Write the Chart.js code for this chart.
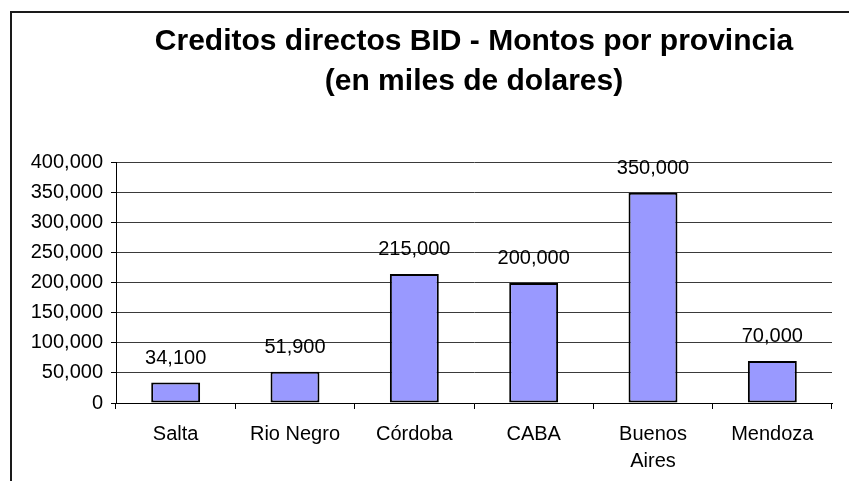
<!DOCTYPE html>
<html>
<head>
<meta charset="utf-8">
<script src="https://cdn.jsdelivr.net/npm/chart.js@4.4.0/dist/chart.umd.min.js"></script>
<style>
    html, body { margin: 0; padding: 0; background: #fff; }
    #wrap { width: 849px; height: 481px; position: relative; }
</style>
</head>
<body>
<div id="wrap"><canvas id="chart" width="849" height="481"></canvas></div>
<script>
const provincias = ['Salta', 'Rio Negro', 'Córdoba', 'CABA', ['Buenos', 'Aires'], 'Mendoza'];
const montos = [34100, 51900, 215000, 200000, 350000, 70000];
const tituloLineas = ['Creditos directos BID - Montos por provincia', '(en miles de dolares)'];
const yMax = 400000;
const yPaso = 50000;

const FONT = "'Liberation Sans', Arial, sans-serif";

// marco del grafico (solo se ven los bordes izquierdo y superior)
const marco = {
    id: 'marco',
    beforeDraw(chart) {
        const ctx = chart.ctx;
        ctx.save();
        ctx.fillStyle = '#fff';
        ctx.fillRect(0, 0, chart.width, chart.height);
        ctx.strokeStyle = '#1a1a1a';
        ctx.lineWidth = 2;
        ctx.beginPath();
        ctx.moveTo(11, chart.height + 5);
        ctx.lineTo(11, 12);
        ctx.lineTo(chart.width + 5, 12);
        ctx.stroke();
        ctx.restore();
    }
};

// etiquetas de valor sobre cada barra
const etiquetas = {
    id: 'etiquetas',
    afterDatasetsDraw(chart) {
        const ctx = chart.ctx;
        const meta = chart.getDatasetMeta(0);
        ctx.save();
        ctx.font = '20px ' + FONT;
        ctx.fillStyle = '#000';
        ctx.textAlign = 'center';
        ctx.textBaseline = 'middle';
        meta.data.forEach((bar, i) => {
            ctx.fillText(montos[i].toLocaleString('en-US'), bar.x, bar.y - 24);
        });
        ctx.restore();
    }
};

new Chart(document.getElementById('chart'), {
    type: 'bar',
    data: {
        labels: provincias,
        datasets: [{
            data: montos,
            backgroundColor: '#9999ff',
            borderColor: '#000',
            borderWidth: 2,
            borderSkipped: false,
            barPercentage: 0.41,
            categoryPercentage: 1
        }]
    },
    options: {
        responsive: false,
        animation: false,
        layout: { padding: { left: 0, right: 17, top: 0, bottom: 0 } },
        plugins: {
            legend: { display: false },
            tooltip: { enabled: false },
            title: {
                display: true,
                text: tituloLineas,
                fullSize: false,
                color: '#000',
                font: { family: FONT, size: 30, weight: 'bold', lineHeight: 1.33 },
                padding: { top: 22, bottom: 61 }
            }
        },
        scales: {
            x: {
                offset: true,
                grid: { offset: true, drawOnChartArea: false, drawTicks: true, tickLength: 6, color: '#000' },
                border: { color: '#000', width: 1 },
                ticks: { color: '#000', padding: 12, maxRotation: 0, font: { family: FONT, size: 20, lineHeight: 1.35 } },
                afterFit(scale) { scale.height = 78; }
            },
            y: {
                min: 0,
                max: yMax,
                grid: { color: '#3a3a3a', tickColor: '#000', tickLength: 5, lineWidth: 1 },
                border: { color: '#000', width: 1 },
                ticks: {
                    stepSize: yPaso,
                    color: '#000',
                    padding: 8,
                    font: { family: FONT, size: 20 },
                    callback: v => v.toLocaleString('en-US')
                },
                afterFit(scale) { scale.width = 116; }
            }
        }
    },
    plugins: [marco, etiquetas]
});
</script>
</body>
</html>
